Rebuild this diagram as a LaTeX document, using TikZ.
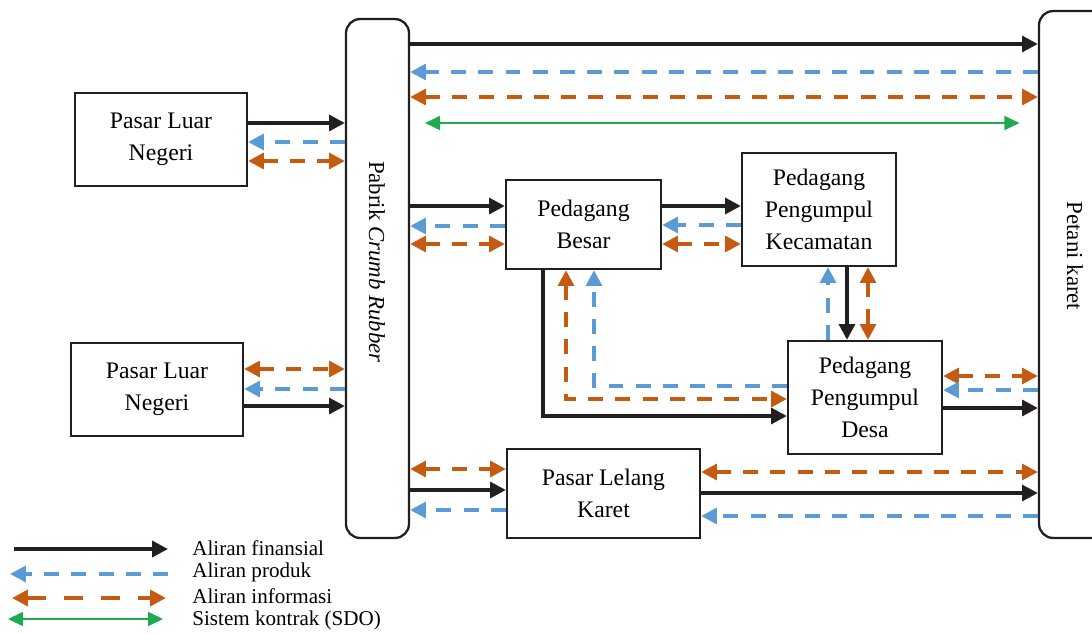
\documentclass[tikz,border=0pt]{standalone}
\usepackage{fontspec}
\setmainfont{Liberation Serif}
\usetikzlibrary{arrows.meta}
\definecolor{finblack}{HTML}{231F20}
\definecolor{prodblue}{HTML}{5B9BD5}
\definecolor{infoorange}{HTML}{C55A11}
\definecolor{sdogreen}{HTML}{1FAA4F}
\tikzset{
  box/.style={draw=finblack, line width=1.3pt, align=center, inner sep=2pt,
    font=\fontsize{13.5}{18}\selectfont},
  tall/.style={box, rounded corners=8pt},
  fin/.style={draw=finblack, line width=2.1pt, -{Triangle[length=9pt,width=9pt]}},
  prod/.style={draw=prodblue, line width=2.1pt, dash pattern=on 8.5pt off 7pt,
    -{Triangle[length=9pt,width=9pt]}},
  info/.style={draw=infoorange, line width=2.1pt, dash pattern=on 8.5pt off 7pt,
    {Triangle[length=9pt,width=9pt]}-{Triangle[length=9pt,width=9pt]}},
  sdo/.style={draw=sdogreen, line width=0.8pt,
    {Triangle[length=8.5pt,width=8pt]}-{Triangle[length=8.5pt,width=8pt]}},
  legtext/.style={anchor=west, inner sep=0pt, font=\fontsize{12}{14}\selectfont},
}
\begin{document}
\begin{tikzpicture}[x=0.02cm, y=-0.02cm]
\clip (0,0) rectangle (1092,633);
\node[tall, minimum width=1.26cm, minimum height=10.38cm] (pabrik) at (377.5,278.5) {};
\node[rotate=-90, font=\fontsize{13}{16}\selectfont] (pabriklbl) at (377,262) {Pabrik \textit{Crumb Rubber}};
\node[tall, minimum width=1.62cm, minimum height=10.54cm] (petani) at (1079.5,274.5) {};
\node[rotate=-90, font=\fontsize{13}{16}\selectfont] (petanilbl) at (1075,256) {Petani karet};
\node[box, minimum width=3.44cm, minimum height=1.86cm] (plnA) at (161,139.5) {Pasar Luar\\Negeri};
\node[box, minimum width=3.44cm, minimum height=1.86cm] (plnB) at (157,389.5) {Pasar Luar\\Negeri};
\node[box, minimum width=3.1cm, minimum height=1.78cm] (besar) at (583.5,224.5) {Pedagang\\Besar};
\node[box, minimum width=3.08cm, minimum height=2.26cm] (kec) at (819,209.5) {Pedagang\\Pengumpul\\Kecamatan};
\node[box, minimum width=3.08cm, minimum height=2.26cm] (desa) at (865,397.5) {Pedagang\\Pengumpul\\Desa};
\node[box, minimum width=3.86cm, minimum height=1.78cm] (lelang) at (603.5,493.5) {Pasar Lelang\\Karet};

\draw[fin] (pabrik.east |- 0,44) -- (petani.west |- 0,44);
\draw[prod] (petani.west |- 0,72) -- (pabrik.east |- 0,72);
\draw[info] (pabrik.east |- 0,97) -- (petani.west |- 0,97);
\draw[sdo, shorten <=8.5pt, shorten >=10.5pt] (pabrik.east |- 0,123) -- (petani.west |- 0,123);

\draw[fin] (plnA.east |- 0,123) -- (pabrik.west |- 0,123);
\draw[prod] (pabrik.west |- 0,142) -- (plnA.east |- 0,142);
\draw[info] (plnA.east |- 0,161) -- (pabrik.west |- 0,161);

\draw[info] (plnB.east |- 0,369) -- (pabrik.west |- 0,369);
\draw[prod] (pabrik.west |- 0,389) -- (plnB.east |- 0,389);
\draw[fin] (plnB.east |- 0,406) -- (pabrik.west |- 0,406);

\draw[fin] (pabrik.east |- 0,206) -- (besar.west |- 0,206);
\draw[prod] (besar.west |- 0,226) -- (pabrik.east |- 0,226);
\draw[info] (pabrik.east |- 0,244) -- (besar.west |- 0,244);

\draw[fin] (besar.east |- 0,206) -- (kec.west |- 0,206);
\draw[prod] (kec.west |- 0,225) -- (besar.east |- 0,225);
\draw[info] (besar.east |- 0,244) -- (kec.west |- 0,244);

\draw[fin] (kec.south -| 847,0) -- (desa.north -| 847,0);
\draw[prod] (desa.north -| 828,0) -- (kec.south -| 828,0);
\draw[info] (kec.south -| 868,0) -- (desa.north -| 868,0);

\draw[fin] (besar.south -| 543,0) |- (desa.west |- 0,416);
\draw[info] (besar.south -| 566,0) |- (desa.west |- 0,399);
\draw[prod] (desa.west |- 0,386) -| (besar.south -| 594,0);

\draw[info] (desa.east |- 0,376) -- (petani.west |- 0,376);
\draw[prod] (petani.west |- 0,390) -- (desa.east |- 0,390);
\draw[fin] (desa.east |- 0,408) -- (petani.west |- 0,408);

\draw[info] (pabrik.east |- 0,469) -- (lelang.west |- 0,469);
\draw[fin] (pabrik.east |- 0,490) -- (lelang.west |- 0,490);
\draw[prod] (lelang.west |- 0,510) -- (pabrik.east |- 0,510);

\draw[info] (lelang.east |- 0,472) -- (petani.west |- 0,472);
\draw[fin] (lelang.east |- 0,493) -- (petani.west |- 0,493);
\draw[prod] (petani.west |- 0,516) -- (lelang.east |- 0,516);

\node[legtext] (lgfin) at (192,548) {Aliran finansial};
\node[legtext] (lgprod) at (192,572) {Aliran produk};
\node[legtext] (lginfo) at (192,596) {Aliran informasi};
\node[legtext] (lgsdo) at (192,620) {Sistem kontrak (SDO)};
\coordinate (lgfinA) at (14,549);
\coordinate (lgfinB) at (168,549);
\coordinate (lgprodA) at (168,574);
\coordinate (lgprodB) at (10,574);
\coordinate (lginfoA) at (12,598);
\coordinate (lginfoB) at (166,598);
\coordinate (lgsdoA) at (8,619);
\coordinate (lgsdoB) at (163,619);
\draw[fin] (lgfinA) -- (lgfinB);
\draw[prod] (lgprodA) -- (lgprodB);
\draw[info, dash pattern=on 11pt off 10pt] (lginfoA) -- (lginfoB);
\draw[sdo] (lgsdoA) -- (lgsdoB);
\end{tikzpicture}
\end{document}
